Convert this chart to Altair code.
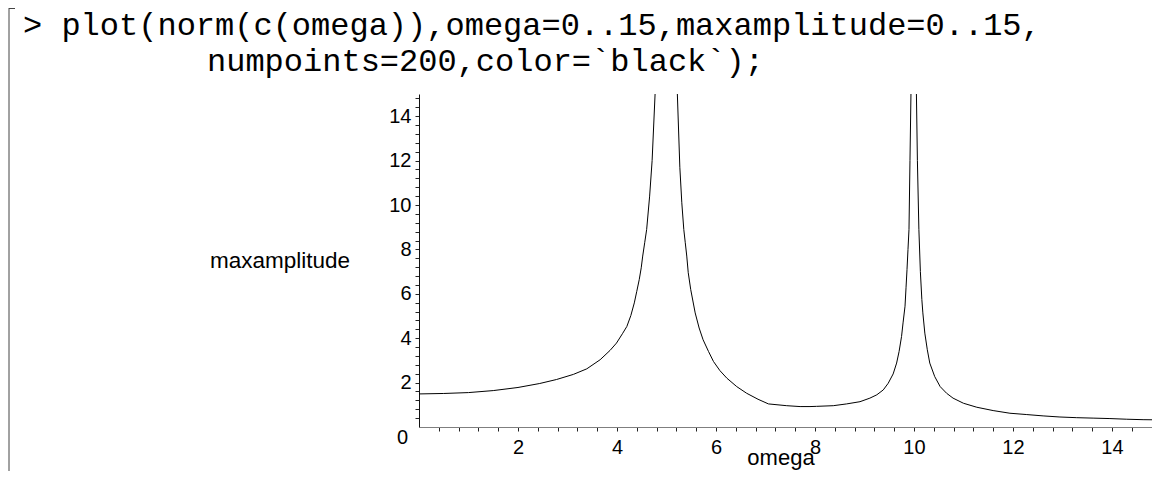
import altair as alt
import pandas as pd

# ---- data ----
seg1_omega = [0.0, 0.5, 1.0, 1.5, 2.0, 2.44, 2.78, 3.12, 3.39, 3.66, 3.86, 3.99, 4.11, 4.20, 4.28,
              4.35, 4.40, 4.45, 4.49, 4.52, 4.56, 4.60, 4.66, 4.71, 4.77]
seg1_amp = [1.49, 1.51, 1.55, 1.64, 1.78, 1.96, 2.14, 2.37, 2.62, 3.03, 3.45, 3.78, 4.20, 4.53, 5.02,
            5.59, 6.11, 6.64, 7.17, 7.70, 8.30, 8.90, 10.4, 12.0, 15.0]

seg2_omega = [5.22, 5.27, 5.31, 5.35, 5.38, 5.41, 5.44, 5.49, 5.58, 5.66, 5.74, 5.85, 5.95, 6.08, 6.22,
              6.42, 6.62, 6.85, 7.06, 7.43, 7.70, 7.90, 8.03, 8.37, 8.64, 8.91, 9.11, 9.25, 9.38,
              9.48, 9.58, 9.65, 9.70, 9.75, 9.78, 9.82, 9.84, 9.86, 9.88, 9.90, 9.92, 9.94]
seg2_amp = [15.0, 11.7, 10.1, 8.90, 8.30, 7.70, 6.95, 6.19, 5.14, 4.46, 3.93, 3.40, 2.95, 2.54, 2.20,
            1.82, 1.52, 1.25, 1.04, 0.96, 0.92, 0.92, 0.93, 0.96, 1.04, 1.14, 1.30, 1.45, 1.67,
            1.97, 2.39, 2.88, 3.40, 4.08, 4.69, 5.44, 6.27, 7.09, 8.00, 8.90, 12.0, 15.0]

seg3_omega = [10.05, 10.07, 10.10, 10.13, 10.16, 10.18, 10.22, 10.27, 10.32, 10.42, 10.53, 10.66,
              10.79, 11.00, 11.27, 11.60, 11.94, 12.28, 12.61, 12.95, 13.29, 13.62, 13.96, 14.30,
              14.63, 15.0]
seg3_amp = [15.0, 12.0, 8.90, 7.0, 5.74, 5.14, 4.23, 3.48, 2.88, 2.27, 1.82, 1.52,
            1.30, 1.07, 0.89, 0.74, 0.62, 0.56, 0.50, 0.45, 0.42, 0.40, 0.38, 0.35,
            0.33, 0.32]

major_labels = [2, 4, 6, 8, 10, 12, 14]
minor_step = 0.4
tick_values = [round(minor_step * i, 1) for i in range(1, 38)]

header_line1 = "> plot(norm(c(omega)),omega=0..15,maxamplitude=0..15,"
header_line2 = "numpoints=200,color=`black`);"
x_title = "omega"
y_title = "maxamplitude"

rows = []
for seg, xs, ys in [("a", seg1_omega, seg1_amp), ("b", seg2_omega, seg2_amp), ("c", seg3_omega, seg3_amp)]:
    for xv, yv in zip(xs, ys):
        rows.append({"omega": xv, "amp": yv, "seg": seg})
df = pd.DataFrame(rows)

# the page's body is 1144px wide; the view ends there (the very last sliver past x=14.81 is off-page)
W, H = 733, 333
X_MAX = 14.81
SANS = "Liberation Sans"
MONO = "Liberation Mono"

label_expr = "abs(datum.value/2 - round(datum.value/2)) < 0.01 ? format(datum.value, 'd') : ''"

xscale = alt.Scale(domain=[0, X_MAX], nice=False, zero=False)
yscale = alt.Scale(domain=[0, 15], nice=False, zero=False)

x_axis = alt.Axis(values=tick_values, labelExpr=label_expr, title=None, grid=False, tickSize=4,
                  domainColor="#7f7f7f", tickColor="#222222", labelFont=SANS, labelFontSize=20,
                  labelColor="black", labelPadding=6, labelOverlap=False, labelFlush=False)
y_axis = alt.Axis(values=tick_values, labelExpr=label_expr, title=None, grid=False, tickSize=4,
                  domainColor="#111111", tickColor="#222222", labelFont=SANS, labelFontSize=20,
                  labelColor="black", labelPadding=4, labelOverlap=False, labelFlush=False)

curve = alt.Chart(df).mark_line(color="black", strokeWidth=1, clip=True).encode(
    x=alt.X("omega:Q", scale=xscale, axis=x_axis),
    y=alt.Y("amp:Q", scale=yscale, axis=y_axis),
    detail="seg:N",
    order="omega:Q",
)

one = pd.DataFrame({"k": [0]})

def text_layer(txt, x, y, size, font, align="left"):
    return alt.Chart(pd.DataFrame({"t": [txt]})).mark_text(
        font=font, fontSize=size, align=align, baseline="alphabetic", color="black"
    ).encode(x=alt.value(x), y=alt.value(y), text="t:N")

h1 = text_layer(header_line1, -396, -59, 32, MONO)
h2 = text_layer(header_line2, -212, -23, 32, MONO)
xt = text_layer(x_title, 362, 371, 22, SANS, "center")
yt = text_layer(y_title, -139, 174, 22.5, SANS, "center")
zero = text_layer("0", -11, 350, 20, SANS, "right")

bracket_v = alt.Chart(one).mark_rule(color="#444444", strokeWidth=1).encode(
    x=alt.value(-410), y=alt.value(-86), y2=alt.value(377))
bracket_h = alt.Chart(one).mark_rule(color="#444444", strokeWidth=1).encode(
    x=alt.value(-410), x2=alt.value(-404), y=alt.value(-85.5))

chart = alt.layer(curve, h1, h2, xt, yt, zero, bracket_v, bracket_h).properties(
    width=W, height=H,
    background="white",
    autosize=alt.AutoSizeParams(type="none"),
    padding={"left": 411, "top": 86, "right": 0, "bottom": 44},
).configure_view(stroke=None)

chart.save("out.html", embed_options={"renderer": "svg", "actions": False})
